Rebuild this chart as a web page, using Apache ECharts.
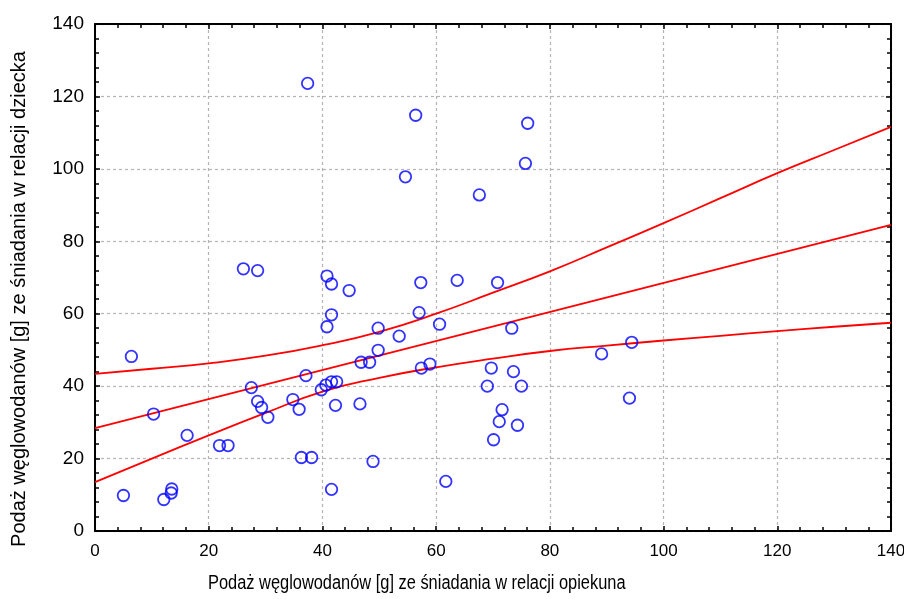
<!DOCTYPE html>
<html>
<head>
<meta charset="utf-8">
<script src="https://cdn.jsdelivr.net/npm/echarts@6/dist/echarts.min.js"></script>
<style>html,body{margin:0;padding:0;background:#fff}#c{width:904px;height:599px}</style>
</head>
<body>
<div id="c"></div>
<script>
// Scatter points: [caregiver, child]
const pointsX = [37.4,56.4,76.1,75.7,54.6,67.6,26.1,28.6,40.8,41.6,57.3,63.7,70.8,44.7,57.0,41.6,40.8,60.6,49.8,73.3,53.5,6.4,49.8,89.1,94.4,46.8,48.3,58.9,57.4,69.7,73.6,37.1,27.5,39.8,40.6,41.6,42.5,69.0,75.0,94.0,10.3,28.6,29.3,30.4,34.8,35.9,42.3,46.6,71.6,71.1,74.3,70.1,16.2,21.9,23.4,36.3,38.1,48.9,41.6,61.7,5.0,12.1,13.4,13.5];
const pointsY = [123.6,114.8,112.6,101.5,97.8,92.8,72.4,71.9,70.4,68.2,68.6,69.2,68.6,66.4,60.3,59.7,56.4,57.1,56.0,56.0,53.8,48.2,49.9,48.9,52.1,46.6,46.6,46.1,45.0,45.0,44.0,42.9,39.6,39.0,40.3,41.2,41.2,40.0,40.0,36.7,32.3,35.8,34.1,31.4,36.3,33.6,34.7,35.1,33.5,30.2,29.2,25.2,26.4,23.6,23.6,20.3,20.3,19.2,11.5,13.7,9.8,8.7,10.5,11.6];
// Regression line (read at ends)
const fitX = [0, 140];
const fitY = [28.4, 84.5];
// Confidence band
const bandX = [0,10,20,30,40,50,60,70,80,90,100,110,120,130,140];
const upperY = [43.4,44.8,46.3,48.4,51.3,55.0,60.0,65.8,71.7,78.3,85.0,91.9,98.8,105.2,111.6];
const lowerY = [13.5,20.0,26.4,32.6,38.5,42.3,45.2,47.6,49.7,51.2,52.6,53.9,55.2,56.4,57.5];
const ticks = [0,20,40,60,80,100,120,140];
const xTitle = 'Podaż węglowodanów [g] ze śniadania w relacji opiekuna';
const yTitle = 'Podaż węglowodanów [g] ze śniadania w relacji dziecka';

const zip = (a, b) => a.map((v, i) => [v, b[i]]);
const font = 'Liberation Sans, Arial, sans-serif';
const baseAxis = {
  min: ticks[0], max: ticks[ticks.length - 1], interval: 20,
  axisLine: { show: true, onZero: false, lineStyle: { color: '#000', width: 2 } },
  axisTick: { show: true, inside: true, length: 5, lineStyle: { color: '#000', width: 1.5 } },
  minorTick: { show: true, splitNumber: 5, length: 4, lineStyle: { color: '#000', width: 1.5 } },
};
const chart = echarts.init(document.getElementById('c'));
chart.setOption({
  animation: false,
  backgroundColor: '#fff',
  grid: { left: 95, right: 13, top: 24, bottom: 68, containLabel: false, outerBoundsMode: 'none' },
  xAxis: [
    Object.assign({}, baseAxis, {
      type: 'value', position: 'bottom',
      axisLabel: { color: '#000', fontSize: 17, fontFamily: font, margin: 12 },
      splitLine: { show: true, lineStyle: { color: '#b4b4b4', type: [3, 3], width: 1.2 } }
    }),
    Object.assign({}, baseAxis, {
      type: 'value', position: 'top', axisLabel: { show: false }, splitLine: { show: false }
    })
  ],
  yAxis: [
    Object.assign({}, baseAxis, {
      type: 'value', position: 'left',
      axisLabel: { color: '#000', fontSize: 19, fontFamily: font, margin: 11 },
      splitLine: { show: true, lineStyle: { color: '#b4b4b4', type: [3, 3], width: 1.2 } }
    }),
    Object.assign({}, baseAxis, {
      type: 'value', position: 'right', axisLabel: { show: false }, splitLine: { show: false }
    })
  ],
  graphic: [
    { type: 'text', x: 208, y: 583, scaleX: 0.82,
      style: { text: xTitle, fill: '#000', font: '20px ' + font, textAlign: 'left', textVerticalAlign: 'middle' } },
    { type: 'text', x: 9, y: 299, rotation: Math.PI / 2,
      style: { text: yTitle, fill: '#000', font: '20px ' + font, textAlign: 'center', textVerticalAlign: 'top' } }
  ],
  series: [
    { type: 'line', data: zip(bandX, upperY), smooth: true, symbol: 'none',
      lineStyle: { color: '#ff0000', width: 1.8 }, z: 3 },
    { type: 'line', data: zip(fitX, fitY), symbol: 'none',
      lineStyle: { color: '#ff0000', width: 1.8 }, z: 3 },
    { type: 'line', data: zip(bandX, lowerY), smooth: true, symbol: 'none',
      lineStyle: { color: '#ff0000', width: 1.8 }, z: 3 },
    { type: 'scatter', data: zip(pointsX, pointsY), symbol: 'circle', symbolSize: 11.5,
      itemStyle: { color: 'rgba(0,0,0,0)', borderColor: '#0000ff', borderWidth: 1.8 }, z: 4 }
  ]
});
</script>
</body>
</html>
